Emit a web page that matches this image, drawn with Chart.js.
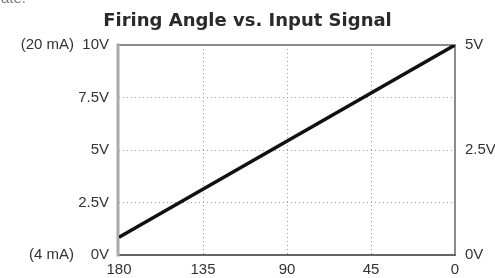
<!DOCTYPE html>
<html>
<head>
<meta charset="utf-8">
<script src="https://cdn.jsdelivr.net/npm/chart.js@4"></script>
<style>
  html, body { margin: 0; padding: 0; background: #fff; }
  #wrap { position: relative; width: 495px; height: 278px; }
</style>
</head>
<body>
<div id="wrap"><canvas id="chart"></canvas></div>
<script>
// data
const angles = [180, 0];
const volts = [0.85, 10];
const angleTicks = [180, 135, 90, 45, 0];
const leftLabels = { 0: '(4 mA)    0V', 2.5: '2.5V', 5: '5V', 7.5: '7.5V', 10: '(20 mA)  10V' };
const rightLabels = { 0: '0V', 2.5: '2.5V', 5: '5V' };

const tickFont = { family: 'Liberation Sans, Arial, sans-serif', size: 15 };
const dotted = '#9a9a9a';

// frame round the plot area (solid edges, grid stays dotted)
const frame = {
  id: 'frame',
  beforeDatasetsDraw(chart) {
    const a = chart.chartArea;
    const ctx = chart.ctx;
    ctx.save();
    ctx.lineCap = 'square';
    ctx.strokeStyle = '#8c8c8c';
    ctx.lineWidth = 2;
    ctx.beginPath();
    ctx.moveTo(a.left, a.top); ctx.lineTo(a.right, a.top); ctx.lineTo(a.right, a.bottom);
    ctx.stroke();
    ctx.strokeStyle = '#666';
    ctx.beginPath();
    ctx.moveTo(a.left, a.bottom); ctx.lineTo(a.right, a.bottom);
    ctx.stroke();
    ctx.strokeStyle = '#aaa';
    ctx.lineWidth = 3;
    ctx.beginPath();
    ctx.moveTo(a.left - 1, a.top); ctx.lineTo(a.left - 1, a.bottom);
    ctx.stroke();
    ctx.restore();
  },
  afterDraw(chart) {
    // cut-off line of text above the chart
    const ctx = chart.ctx;
    ctx.save();
    ctx.fillStyle = '#777';
    ctx.font = '15px Liberation Sans, Arial, sans-serif';
    ctx.textBaseline = 'alphabetic';
    ctx.fillText('ate.', 1, 3);
    ctx.restore();
  }
};

new Chart(document.getElementById('chart'), {
  type: 'line',
  data: {
    datasets: [{
      data: angles.map((a, i) => ({ x: a, y: volts[i] })),
      borderColor: '#111',
      borderWidth: 3.5,
      pointRadius: 0,
      yAxisID: 'y'
    }]
  },
  options: {
    responsive: true,
    maintainAspectRatio: false,
    animation: false,
    layout: { padding: 0 },
    plugins: {
      legend: { display: false },
      tooltip: { enabled: false },
      title: {
        display: true,
        text: 'Firing Angle vs. Input Signal',
        color: '#2a2a2a',
        font: { family: 'DejaVu Sans', size: 18, weight: 'bold' },
        padding: { top: 11, bottom: 12.4 }
      }
    },
    scales: {
      x: {
        type: 'linear',
        reverse: true,
        min: 0,
        max: 180,
        afterBuildTicks: s => { s.ticks = angleTicks.map(v => ({ value: v })); },
        afterFit: s => { s.height = 23; },
        grid: {
          drawTicks: false,
          color: c => (c.tick && (c.tick.value === 0 || c.tick.value === 180)) ? 'transparent' : dotted
        },
        border: { display: false, dash: [1, 3] },
        ticks: { color: '#333', font: tickFont, padding: 6, maxRotation: 0 }
      },
      y: {
        position: 'left',
        min: 0,
        max: 10,
        afterBuildTicks: s => { s.ticks = Object.keys(leftLabels).map(Number).sort((a, b) => a - b).map(v => ({ value: v })); },
        afterFit: s => { s.width = 119; },
        grid: {
          drawTicks: false,
          color: c => (c.tick && (c.tick.value === 0 || c.tick.value === 10)) ? 'transparent' : dotted
        },
        border: { display: false, dash: [1, 3] },
        ticks: { color: '#333', font: tickFont, padding: 10, callback: v => leftLabels[v] }
      },
      y2: {
        position: 'right',
        min: 0,
        max: 5,
        afterBuildTicks: s => { s.ticks = Object.keys(rightLabels).map(Number).sort((a, b) => a - b).map(v => ({ value: v })); },
        afterFit: s => { s.width = 40; },
        grid: { drawOnChartArea: false, drawTicks: false },
        border: { display: false },
        ticks: { color: '#333', font: tickFont, padding: 10, callback: v => rightLabels[v] }
      }
    }
  },
  plugins: [frame]
});
</script>
</body>
</html>
